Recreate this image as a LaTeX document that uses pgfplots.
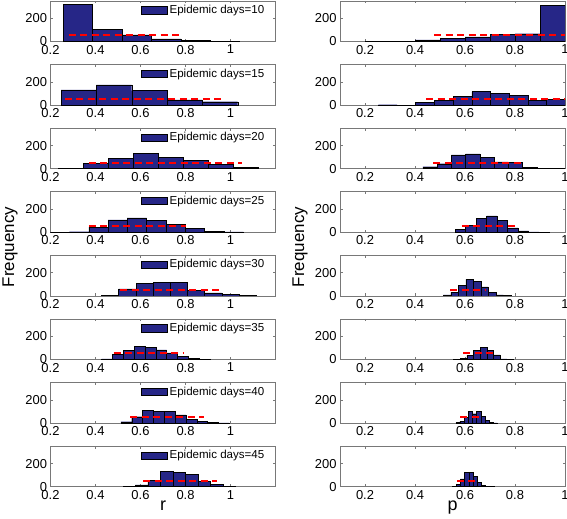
\documentclass[border=0pt]{standalone}
\usepackage{fontspec}
\setmainfont{Liberation Sans}
\usepackage{pgfplots}
\pgfplotsset{compat=1.18}
\definecolor{barblue}{RGB}{38,38,135}
\definecolor{axgray}{RGB}{120,120,120}
\definecolor{dashred}{RGB}{255,0,0}
\pgfplotsset{
  panel/.style={
    scale only axis, width=225bp, height=40.5bp,
    anchor=north west,
    ymin=0, ymax=350, ytick={0,200}, yticklabels={0,200},
    axis line style={axgray, line width=0.6bp},
    tick style={axgray, line width=0.6bp},
    major tick length=2.5bp,
    tick align=inside,
    ticklabel style={font=\fontsize{13}{13}\selectfont, text=black},
    /pgf/number format/assume math mode=true,
    legend style={draw=none, fill=none, at={(1,1)}, anchor=north east,
      xshift=-9bp, yshift=-2bp, inner sep=0pt,
      font=\fontsize{11.6}{14}\selectfont},
    legend cell align=left,
  },
  lpanel/.style={panel, xmin=0.2, xmax=1.2,
    xtick={0.2,0.4,0.6,0.8,1}, xticklabels={0.2,0.4,0.6,0.8,1}},
  rpanel/.style={panel, xmin=0.1, xmax=1,
    xtick={0.2,0.4,0.6,0.8,1}, xticklabels={0.2,0.4,0.6,0.8,1}},
  bars/.style={ybar interval, fill=barblue, draw=black, line width=0.4bp,
    legend image code/.code={\draw[fill=barblue,draw=black,line width=0.4bp] (0bp,-3.6bp) rectangle (26bp,3.6bp);}},
  redline/.style={draw=dashred, color=dashred, line width=2bp, line cap=butt, dash pattern=on 7bp off 4.5bp, mark=none, forget plot},
}
\begin{document}
\begin{tikzpicture}
\useasboundingbox (0,0) rectangle (567bp,519bp);
% ---------------- left column (r) ----------------
\begin{axis}[lpanel, at={(50.5bp,518bp)}]
\addplot[bars] coordinates {(0.257,318) (0.3875,105) (0.518,58) (0.6485,22) (0.779,10) (0.9095,2) (1.04,0)};
\addlegendentry{Epidemic days=10}
\addplot[redline] coordinates {(0.28,53) (0.79,53)};
\end{axis}
\begin{axis}[lpanel, at={(50.5bp,454.4bp)}]
\addplot[bars] coordinates {(0.247,132) (0.404,175) (0.561,126) (0.718,46) (0.875,29) (1.032,0)};
\addlegendentry{Epidemic days=15}
\addplot[redline] coordinates {(0.264,53) (0.96,53)};
\end{axis}
\begin{axis}[lpanel, at={(50.5bp,390.8bp)}]
\addplot[bars] coordinates {(0.235,5) (0.346,49) (0.457,90) (0.568,133) (0.679,99) (0.790,70) (0.901,35) (1.012,14) (1.124,0)};
\addlegendentry{Epidemic days=20}
\addplot[redline] coordinates {(0.37,53) (1.05,53)};
\end{axis}
\begin{axis}[lpanel, at={(50.5bp,327.2bp)}]
\addplot[bars] coordinates {(0.198,2) (0.284,5) (0.370,44) (0.456,107) (0.541,125) (0.627,104) (0.713,70) (0.799,35) (0.885,10) (0.971,3) (1.057,0)};
\addlegendentry{Epidemic days=25}
\addplot[redline] coordinates {(0.37,53) (0.80,53)};
\end{axis}
\begin{axis}[lpanel, at={(50.5bp,263.6bp)}]
\addplot[bars] coordinates {(0.427,4) (0.503,61) (0.580,107) (0.656,116) (0.733,116) (0.808,46) (0.885,26) (0.961,15) (1.038,6) (1.113,0)};
\addlegendentry{Epidemic days=30}
\addplot[redline] coordinates {(0.509,53) (0.961,53)};
\end{axis}
\begin{axis}[lpanel, at={(50.5bp,200bp)}]
\addplot[bars] coordinates {(0.427,5) (0.476,45) (0.524,78) (0.572,116) (0.620,107) (0.668,84) (0.716,58) (0.764,26) (0.813,8) (0.861,2) (0.909,0)};
\addlegendentry{Epidemic days=35}
\addplot[redline] coordinates {(0.48,53) (0.79,53)};
\end{axis}
\begin{axis}[lpanel, at={(50.5bp,136.4bp)}]
\addplot[bars] coordinates {(0.513,12) (0.561,55) (0.609,110) (0.657,99) (0.706,99) (0.754,70) (0.802,35) (0.850,14) (0.898,5) (0.946,1) (0.994,0)};
\addlegendentry{Epidemic days=40}
\addplot[redline] coordinates {(0.554,53) (0.88,53)};
\end{axis}
\begin{axis}[lpanel, at={(50.5bp,72.8bp)}]
\addplot[bars] coordinates {(0.522,3) (0.5775,15) (0.633,52) (0.6885,132) (0.744,122) (0.7995,105) (0.855,48) (0.9105,22) (0.966,5) (1.0215,0)};
\addlegendentry{Epidemic days=45}
\addplot[redline] coordinates {(0.612,53) (0.939,53)};
\end{axis}
% ---------------- right column (p) ----------------
\begin{axis}[rpanel, at={(340bp,518bp)}]
\addplot[bars] coordinates {(0.2,1) (0.3,3) (0.4,14) (0.5,26) (0.6,41) (0.7,61) (0.8,67) (0.9,310) (1.0,0)};
\addplot[redline] coordinates {(0.476,53) (1.0,53)};
\end{axis}
\begin{axis}[rpanel, at={(340bp,454.4bp)}]
\addplot[bars] coordinates {(0.253,3) (0.328,0) (0.402,22) (0.477,38) (0.552,75) (0.627,116) (0.701,99) (0.776,84) (0.851,43) (0.925,49) (1.0,0)};
\addplot[redline] coordinates {(0.444,53) (1.0,53)};
\end{axis}
\begin{axis}[rpanel, at={(340bp,390.8bp)}]
\addplot[bars] coordinates {(0.431,17) (0.488,43) (0.545,119) (0.602,128) (0.659,101) (0.716,58) (0.773,52) (0.830,12) (0.888,3) (0.945,0) (1.002,0)};
\addplot[redline] coordinates {(0.473,53) (0.827,53)};
\end{axis}
\begin{axis}[rpanel, at={(340bp,327.2bp)}]
\addplot[bars] coordinates {(0.560,23) (0.602,58) (0.644,119) (0.686,142) (0.728,104) (0.770,38) (0.812,12) (0.854,3) (0.896,1) (0.938,0)};
\addplot[redline] coordinates {(0.587,53) (0.817,53)};
\end{axis}
\begin{axis}[rpanel, at={(340bp,263.6bp)}]
\addplot[bars] coordinates {(0.513,9) (0.543,32) (0.573,90) (0.603,142) (0.633,125) (0.663,78) (0.693,29) (0.723,9) (0.753,2) (0.783,0)};
\addplot[redline] coordinates {(0.54,53) (0.68,53)};
\end{axis}
\begin{axis}[rpanel, at={(340bp,200bp)}]
\addplot[bars] coordinates {(0.553,2) (0.580,9) (0.607,35) (0.633,81) (0.660,107) (0.687,81) (0.713,41) (0.740,6) (0.767,1) (0.793,0)};
\addplot[redline] coordinates {(0.593,53) (0.727,53)};
\end{axis}
\begin{axis}[rpanel, at={(340bp,136.4bp)}]
\addplot[bars] coordinates {(0.563,4) (0.579,17) (0.596,52) (0.613,101) (0.629,81) (0.646,101) (0.663,58) (0.679,23) (0.696,5) (0.713,1) (0.729,0)};
\addplot[redline] coordinates {(0.58,53) (0.667,53)};
\end{axis}
\begin{axis}[rpanel, at={(340bp,72.8bp)}]
\addplot[bars] coordinates {(0.548,3) (0.565,23) (0.581,67) (0.598,122) (0.615,122) (0.631,87) (0.648,35) (0.665,12) (0.681,3) (0.698,1) (0.715,0)};
\addplot[redline] coordinates {(0.567,53) (0.65,53)};
\end{axis}
% ---------------- axis titles ----------------
\node[rotate=90, anchor=base, font=\fontsize{17}{17}\selectfont] at (14bp,272bp) {Frequency};
\node[rotate=90, anchor=base, font=\fontsize{17}{17}\selectfont] at (304bp,272bp) {Frequency};
\node[anchor=base, font=\fontsize{18}{18}\selectfont] at (163bp,9bp) {r};
\node[anchor=base, font=\fontsize{18}{18}\selectfont] at (452.5bp,9bp) {p};
\end{tikzpicture}
\end{document}
